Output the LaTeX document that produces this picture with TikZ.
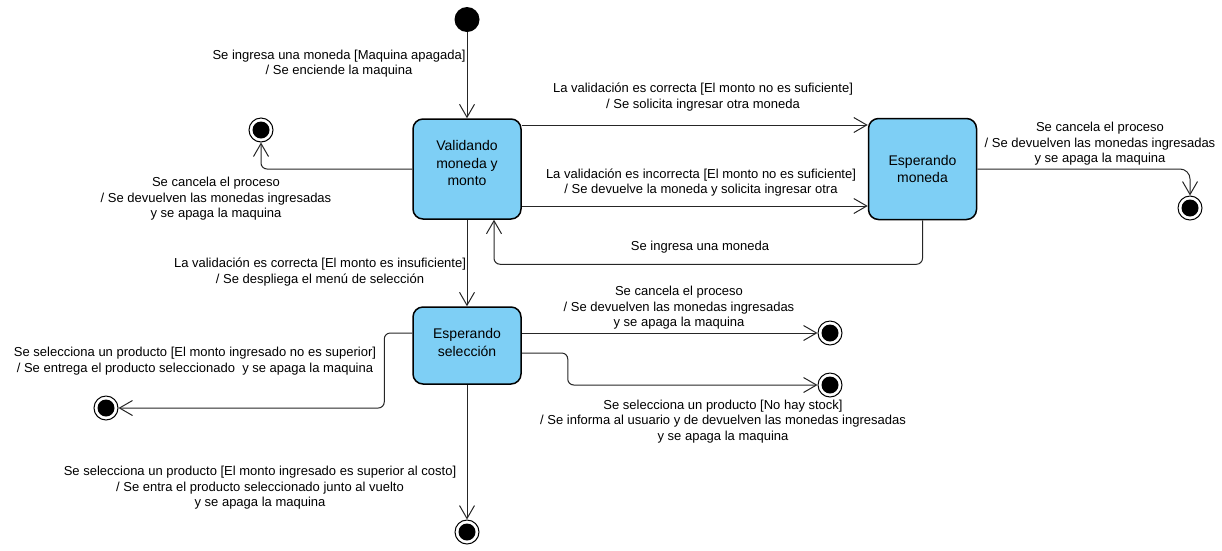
\documentclass[tikz,border=0pt]{standalone}
\usepackage{fontspec}
\setmainfont{Liberation Sans}
\usetikzlibrary{arrows.meta}
\definecolor{stfill}{RGB}{126,207,245}
\begin{document}
\begin{tikzpicture}[x=1pt,y=-1pt,
  statebox/.style={draw=black, line width=1.5pt, fill=stfill, rounded corners=10pt, minimum width=108pt, align=center, font=\fontsize{14}{17.5}\selectfont, inner sep=0pt},
  boxtext/.style={align=center, font=\fontsize{14}{17.5}\selectfont, inner sep=0pt},
  initst/.style={circle, fill=black, minimum size=25pt, inner sep=0pt},
  finalst/.style={circle, draw=black, line width=1pt, fill=white, minimum size=24pt, inner sep=0pt, path picture={\fill[black] (path picture bounding box.center) circle (8.5pt);}},
  lbl/.style={align=center, font=\fontsize{13}{15.5}\selectfont, inner sep=0pt},
  conn/.style={draw=black!85, line width=1pt, -{Straight Barb[length=13pt,width=15pt]}, rounded corners=6pt}]
\useasboundingbox (0,0) rectangle (1222,550);
% states
\node[initst] (init) at (467,19.5) {};
\node[statebox, minimum height=100pt, label={[boxtext, yshift=6pt]center:Validando\\moneda y\\monto}] (val) at (467,169) {};
\node[statebox, minimum height=101pt] (mon) at (922.5,169) {Esperando\\moneda};
\node[statebox, minimum height=77pt, label={[boxtext, yshift=3pt]center:Esperando\\selección}] (sel) at (467,345.5) {};
\node[finalst] (f1) at (261,130) {};
\node[finalst] (f2) at (1190,208) {};
\node[finalst] (f3) at (830,333) {};
\node[finalst] (f4) at (830,385) {};
\node[finalst] (f5) at (106,408) {};
\node[finalst] (f6) at (467,532) {};
% connectors
\draw[conn] (init) -- (val);
\draw[conn] ([yshift=44pt]val.east) -- ([yshift=44pt]mon.west);
\draw[conn] ([yshift=-37pt]val.east) -- ([yshift=-37pt]mon.west);
\draw[conn] (mon.south) -- ++(0,44) -| ([xshift=27pt]val.south);
\draw[conn] (val.west) -| (f1);
\draw[conn, rounded corners=10pt] (mon.east) -| (f2);
\draw[conn] (val) -- (sel);
\draw[conn] ([yshift=12.5pt]sel.east) -- (f3);
\draw[conn] ([yshift=-7.5pt]sel.east) -- ++(46,0) |- (f4);
\draw[conn] ([yshift=12.5pt]sel.west) -- ++(-28,0) |- (f5);
\draw[conn] (sel) -- (f6);
% labels
\node[lbl] (l1) at (339,63.5) {Se ingresa una moneda [Maquina apagada]\\/ Se enciende la maquina};
\node[lbl] (l2) at (703,97) {La validación es correcta [El monto no es suficiente]\\/ Se solicita ingresar otra moneda};
\node[lbl] (l3) at (701,182.5) {La validación es incorrecta [El monto no es suficiente]\\/ Se devuelve la moneda y solicita ingresar otra};
\node[lbl] (l4) at (700,247) {Se ingresa una moneda};
\node[lbl] (l5) at (216,199) {Se cancela el proceso\\/ Se devuelven las monedas ingresadas\\y se apaga la maquina};
\node[lbl] (l6) at (1100,144) {Se cancela el proceso\\/ Se devuelven las monedas ingresadas\\y se apaga la maquina};
\node[lbl] (l7) at (320,272) {La validación es correcta [El monto es insuficiente]\\/ Se despliega el menú de selección};
\node[lbl] (l8) at (679,308) {Se cancela el proceso\\/ Se devuelven las monedas ingresadas\\y se apaga la maquina};
\node[lbl] (l9) at (723,421.5) {Se selecciona un producto [No hay stock]\\/ Se informa al usuario y de devuelven las monedas ingresadas\\y se apaga la maquina};
\node[lbl] (l10) at (195,361) {Se selecciona un producto [El monto ingresado no es superior]\\/ Se entrega el producto seleccionado\ \ y se apaga la maquina};
\node[lbl] (l11) at (260,488) {Se selecciona un producto [El monto ingresado es superior al costo]\\/ Se entra el producto seleccionado junto al vuelto\\y se apaga la maquina};
\end{tikzpicture}
\end{document}
